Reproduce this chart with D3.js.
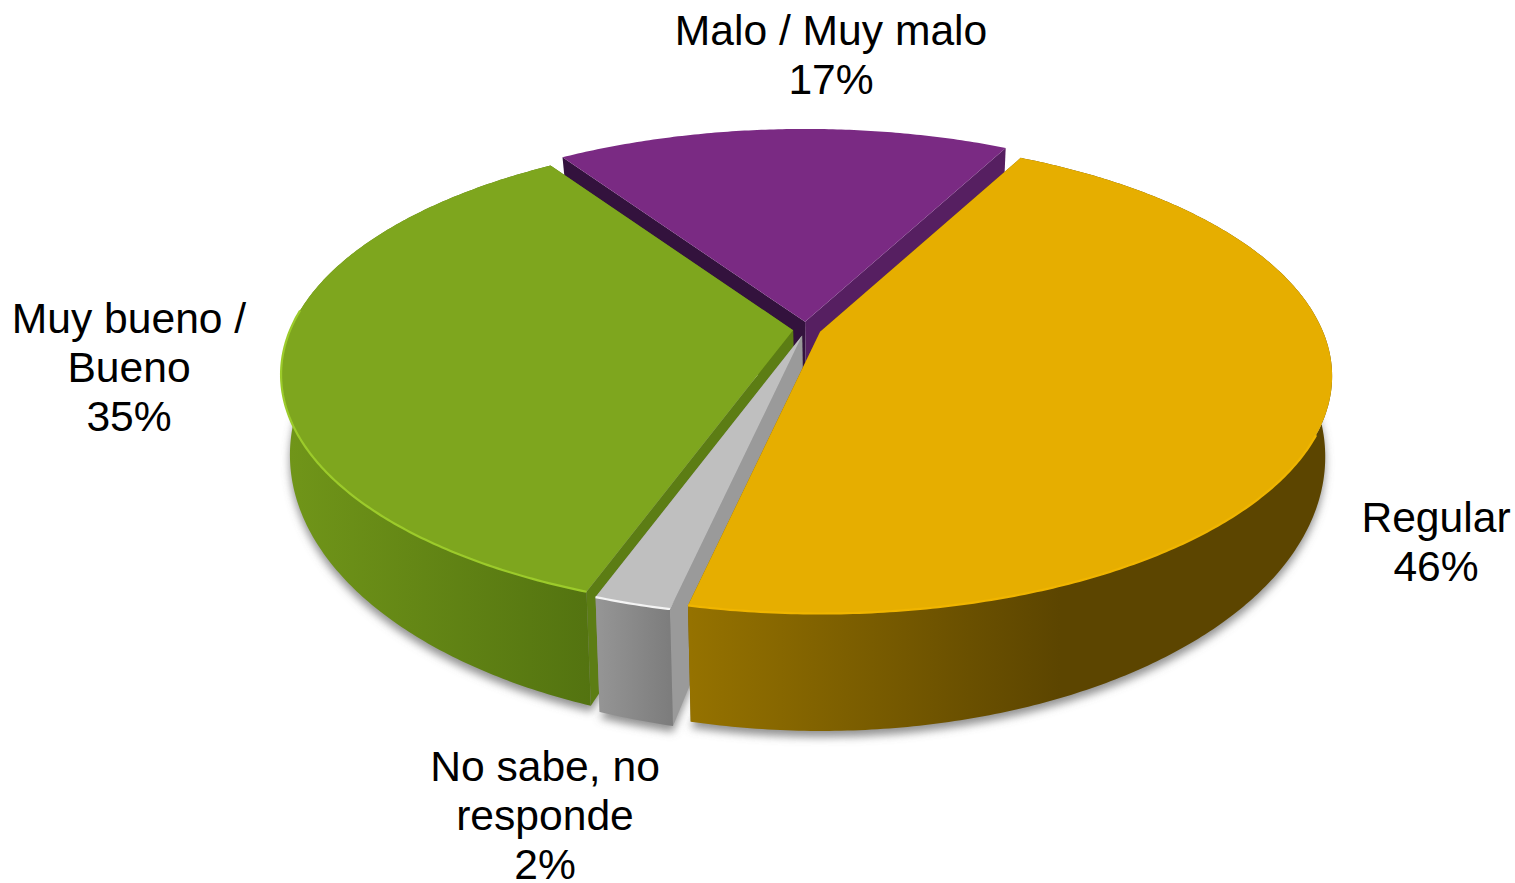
<!DOCTYPE html>
<html lang="es">
<head>
<meta charset="utf-8">
<title>Pie</title>
<script src="https://cdn.jsdelivr.net/npm/d3@7/dist/d3.min.js"></script>
<style>
html,body{margin:0;padding:0;background:#fff;overflow:hidden}
svg{display:block}
text{font-family:"Liberation Sans",Arial,sans-serif;font-size:42.6px;fill:#000;text-anchor:middle}
</style>
</head>
<body>
<svg id="c" width="1515" height="883"></svg>
<script>
// Data
const categories = ["Regular", "No sabe, no responde", "Muy bueno / Bueno", "Malo / Muy malo"];
const values = [45.75, 2.05, 35.1, 17.1];
const labelLines = [["Regular"], ["No sabe, no", "responde"], ["Muy bueno /", "Bueno"], ["Malo / Muy malo"]];

// Styling and layout
const topColors  = ["#e6ae00", "#bfbfbf", "#7ea61e", "#7a2a83"];
const edgeColors = ["#f0b500", "#f4f4f4", "#9ccb2c", "#8a3a94"];
const cutStart   = ["#7a5c00", "#9a9a9a", "#5c7d14", "#33123d"];
const cutEnd     = ["#7a5c00", "#8c8c8c", "#5c7d14", "#561f61"];
const wallStops  = [["#957200", "#5c4500"], ["#959595", "#7c7c7c"], ["#709519", "#537310"], ["#561f61", "#561f61"]];
const wallX      = [[690, 1060], [598, 672], [290, 592], [560, 1005]];
const explode    = [15, 14, 13, 17];
const labelAt    = [[1436, 518], [545, 767], [129, 319], [831, 31]];
const drawOrder  = [3, 2, 1, 0];

const cx = 806, cy = 329.5, R = 503, T = 229, K = 0.187, SQ = 0.45;
const BS = 0.985, BY = 1.155, RIMY = 375, LOWY = 455.5, START = 27.7 * Math.PI / 180;

const svg = d3.select("#c");
const defs = svg.append("defs");
defs.append("filter").attr("id", "soft").attr("x", "-10%").attr("y", "-10%").attr("width", "120%").attr("height", "130%")
  .append("feGaussianBlur").attr("stdDeviation", 4.5);
defs.append("filter").attr("id", "edge").attr("x", "-5%").attr("y", "-5%").attr("width", "110%").attr("height", "110%")
  .append("feGaussianBlur").attr("stdDeviation", 0.7);

const pie = d3.pie().sort(null).startAngle(START).endAngle(START + 2 * Math.PI);
const arcs = pie(values);
const line = d3.line().curve(d3.curveLinear);

function apex(a) {
  const m = (a.startAngle + a.endAngle) / 2, e = explode[a.index];
  return [cx + e * Math.sin(m), cy - e * Math.cos(m) * SQ];
}
// Perspective projection of the unit disk, then the mapping to the lower face
function upper(a, r, th) {
  const c = apex(a), u = r * Math.sin(th), v = -r * Math.cos(th), s = 1 / (1 - K * v);
  return [c[0] + R * u * s, c[1] + T * v * s];
}
function low(p) { return [cx + 1 + (p[0] - cx) * BS, LOWY + (p[1] - RIMY) * BY]; }
function rim(a, t0 = a.startAngle, t1 = a.endAngle) {
  const n = Math.max(2, Math.ceil((t1 - t0) / 0.01));
  return d3.range(n + 1).map(i => upper(a, 1, t0 + (t1 - t0) * i / n));
}
function cutFace(a, th) {
  const c = apex(a), p = upper(a, 1, th);
  return line([c, p, low(p), low(c)]) + "Z";
}

// ground shadow
svg.append("g").selectAll("path").data(arcs.filter(a => a.index !== 3)).join("path")
  .attr("d", a => line([low(apex(a)), ...rim(a).map(low)]) + "Z")
  .attr("transform", "translate(0,6)")
  .attr("fill", "#6f6f6f").attr("fill-opacity", 0.75).attr("filter", "url(#soft)");

// wall gradients
arcs.forEach(a => {
  const g = defs.append("linearGradient").attr("id", "w" + a.index)
    .attr("gradientUnits", "userSpaceOnUse")
    .attr("x1", wallX[a.index][0]).attr("x2", wallX[a.index][1]).attr("y1", 0).attr("y2", 0);
  g.append("stop").attr("offset", 0).attr("stop-color", wallStops[a.index][0]);
  g.append("stop").attr("offset", 1).attr("stop-color", wallStops[a.index][1]);
});

const slices = svg.append("g").selectAll("g").data(drawOrder.map(i => arcs[i])).join("g");

// radial cut faces: the back-facing one first
slices.append("path").attr("d", a => cutFace(a, a.endAngle)).attr("fill", a => cutEnd[a.index]);
slices.append("path").attr("d", a => cutFace(a, a.startAngle)).attr("fill", a => cutStart[a.index]);

// outer wall (the back slice's wall faces away from the viewer)
slices.filter(a => a.index !== 3).append("path").attr("d", a => {
    const P = rim(a);
    return line([...P, ...P.map(low).reverse()]) + "Z";
  }).attr("fill", a => `url(#w${a.index})`);

// top face
slices.append("path").attr("d", a => line([apex(a), ...rim(a)]) + "Z").attr("fill", a => topColors[a.index]);

// bevel highlight on the front of the rim
slices.filter(a => a.index !== 3).append("path").attr("d", a => {
    const t0 = Math.max(a.startAngle, 2.0), t1 = Math.min(a.endAngle, 4.8);
    return line(rim(a, t0, t1));
  }).attr("fill", "none").attr("stroke", a => edgeColors[a.index]).attr("stroke-width", 2.2)
  .attr("filter", "url(#edge)");

// labels
const labels = svg.append("g").selectAll("text").data(arcs).join("text")
  .attr("transform", a => `translate(${labelAt[a.index][0]},${labelAt[a.index][1]})`);
labels.each(function (a) {
  const lines = [...labelLines[a.index], d3.format(".0f")(values[a.index]) + "%"];
  d3.select(this).selectAll("tspan").data(lines).join("tspan")
    .attr("x", 0).attr("y", (d, i) => 14 + i * 49).text(d => d);
});
</script>
</body>
</html>
